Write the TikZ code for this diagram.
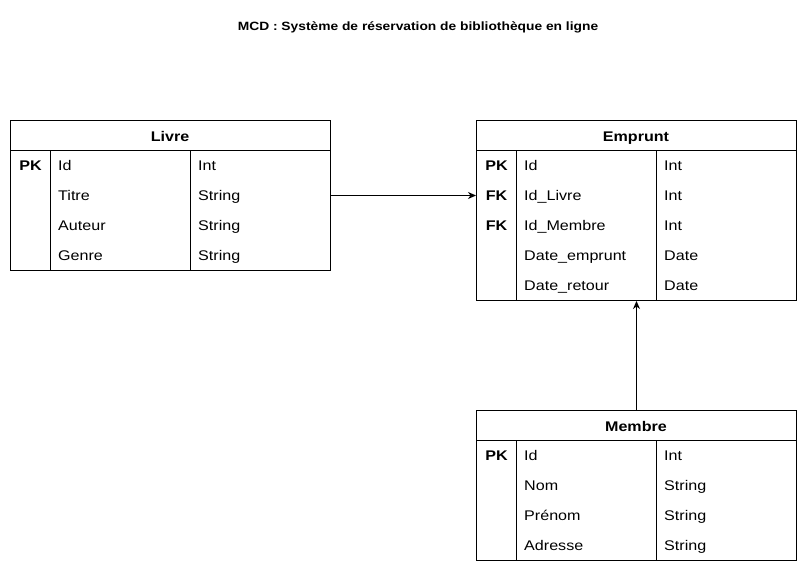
\documentclass[tikz,border=0pt]{standalone}
\usepackage{fontspec}
\setmainfont{Liberation Sans}
\newfontfamily\diagfont[FakeStretch=1.15]{Liberation Sans}
\usetikzlibrary{arrows.meta}
\begin{document}
\begin{tikzpicture}[x=1pt,y=-1pt,
  frame/.style={draw=black, line width=1pt, inner sep=0pt, anchor=north west},
  hdrtxt/.style={anchor=base, inner sep=0pt, font=\diagfont\fontsize{14}{16}\selectfont\bfseries},
  txt/.style={anchor=base west, inner sep=0pt, font=\diagfont\fontsize{14}{16}\selectfont},
  keytxt/.style={anchor=base, inner sep=0pt, font=\diagfont\fontsize{14}{16}\selectfont\bfseries},
  link/.style={draw=black, line width=1pt, -{Stealth[length=8pt,width=7pt,inset=2.5pt]}}
]
\useasboundingbox (0,0) rectangle (807,571);

% Title
\node[font=\diagfont\fontsize{12}{14}\selectfont\bfseries, inner sep=0pt, anchor=base] (title) at (418,30) {MCD : Système de réservation de bibliothèque en ligne};

% ---------- Livre ----------
\node[frame, minimum width=320pt, minimum height=150pt] (livre) at (10,120) {};
\node[frame, minimum width=320pt, minimum height=30pt] (livreh) at (10,120) {};
\node[hdrtxt] (livrename) at (170,141) {Livre};
\node[frame, minimum width=40pt, minimum height=120pt] (livrek) at (10,150) {};
\node[frame, minimum width=140pt, minimum height=120pt] (livret) at (190,150) {};
\node[keytxt] (l1k) at (30.5,170.5) {PK};
\node[txt] (l1n) at (58,170.5) {Id};
\node[txt] (l1t) at (198,170.5) {Int};
\node[txt] (l2n) at (58,200.5) {Titre};
\node[txt] (l2t) at (198,200.5) {String};
\node[txt] (l3n) at (58,230.5) {Auteur};
\node[txt] (l3t) at (198,230.5) {String};
\node[txt] (l4n) at (58,260.5) {Genre};
\node[txt] (l4t) at (198,260.5) {String};

% ---------- Emprunt ----------
\node[frame, minimum width=320pt, minimum height=180pt] (emprunt) at (476,120) {};
\node[frame, minimum width=320pt, minimum height=30pt] (emprunth) at (476,120) {};
\node[hdrtxt] (empruntname) at (636,141) {Emprunt};
\node[frame, minimum width=40pt, minimum height=150pt] (empruntk) at (476,150) {};
\node[frame, minimum width=140pt, minimum height=150pt] (empruntt) at (656,150) {};
\node[frame, draw=none, minimum width=40pt, minimum height=30pt] (fkrow) at (476,180) {};
\node[keytxt] (e1k) at (496.5,170.5) {PK};
\node[txt] (e1n) at (524,170.5) {Id};
\node[txt] (e1t) at (664,170.5) {Int};
\node[keytxt] (e2k) at (496.5,200.5) {FK};
\node[txt] (e2n) at (524,200.5) {Id\_Livre};
\node[txt] (e2t) at (664,200.5) {Int};
\node[keytxt] (e3k) at (496.5,230.5) {FK};
\node[txt] (e3n) at (524,230.5) {Id\_Membre};
\node[txt] (e3t) at (664,230.5) {Int};
\node[txt] (e4n) at (524,260.5) {Date\_emprunt};
\node[txt] (e4t) at (664,260.5) {Date};
\node[txt] (e5n) at (524,290.5) {Date\_retour};
\node[txt] (e5t) at (664,290.5) {Date};

% ---------- Membre ----------
\node[frame, minimum width=320pt, minimum height=150pt] (membre) at (476,410) {};
\node[frame, minimum width=320pt, minimum height=30pt] (membreh) at (476,410) {};
\node[hdrtxt] (membrename) at (636,431) {Membre};
\node[frame, minimum width=40pt, minimum height=120pt] (membrek) at (476,440) {};
\node[frame, minimum width=140pt, minimum height=120pt] (membret) at (656,440) {};
\node[keytxt] (m1k) at (496.5,460.5) {PK};
\node[txt] (m1n) at (524,460.5) {Id};
\node[txt] (m1t) at (664,460.5) {Int};
\node[txt] (m2n) at (524,490.5) {Nom};
\node[txt] (m2t) at (664,490.5) {String};
\node[txt] (m3n) at (524,520.5) {Prénom};
\node[txt] (m3t) at (664,520.5) {String};
\node[txt] (m4n) at (524,550.5) {Adresse};
\node[txt] (m4t) at (664,550.5) {String};

% ---------- Links ----------
\draw[link] (livre.east) -- (fkrow.west);
\draw[link] (membre.north) -- (emprunt.south);
\end{tikzpicture}
\end{document}
